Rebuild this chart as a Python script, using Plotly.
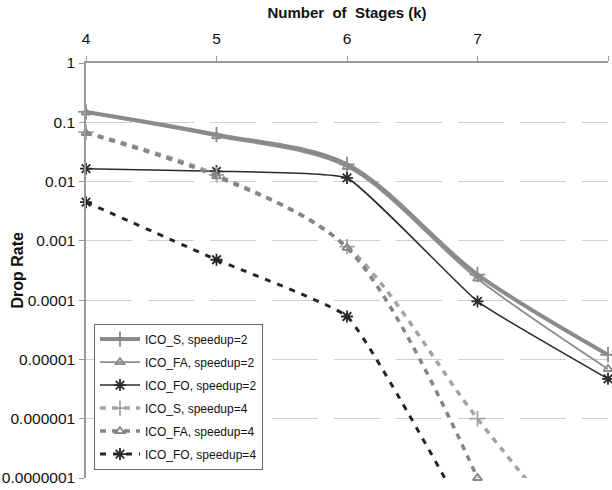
import plotly.graph_objects as go

# Number of pipeline stages (k)
stages = [4, 5, 6, 7, 8]

# Drop rate per configuration
ico_s_2 = [0.15, 0.062, 0.0195, 0.00027, 0.000012]
ico_fa_2 = [0.145, 0.058, 0.0176, 0.00023, 0.0000069]
ico_fo_2 = [0.0165, 0.0149, 0.0115, 0.000095, 0.0000047]
ico_s_4 = [0.068, 0.013, 0.0008, 0.000001, 0.000000002]
ico_fa_4 = [0.066, 0.0122, 0.00076, 0.0000001, None]
ico_fo_4 = [0.0045, 0.00048, 0.000053, 0.00000001, None]

series_names = [
    "ICO_S, speedup=2", "ICO_FA, speedup=2", "ICO_FO, speedup=2",
    "ICO_S, speedup=4", "ICO_FA, speedup=4", "ICO_FO, speedup=4",
]

y_tick_vals = [1, 0.1, 0.01, 0.001, 0.0001, 0.00001, 0.000001, 0.0000001]
y_tick_text = ["1", "0.1", "0.01", "0.001", "0.0001", "0.00001", "0.000001", "0.0000001"]
x_tick_vals = [4, 5, 6, 7, 8]

FONT = "Arial"

styles = [
    dict(color="#8a8a8a", width=4, dash="solid", symbol="cross-thin-open", size=11, smooth=0.9),
    dict(color="#8c8c8c", width=1.8, dash="solid", symbol="triangle-up-open", size=8, smooth=0.9),
    dict(color="#2b2b2b", width=1.5, dash="solid", symbol="asterisk-open", size=10, smooth=0.35),
    dict(color="#a4a4a4", width=3.5, dash="6px,6px", symbol="cross-thin-open", size=11, smooth=0.9),
    dict(color="#858585", width=3.5, dash="6px,6px", symbol="triangle-up-open", size=8, smooth=0.9),
    dict(color="#262626", width=3, dash="6px,7px", symbol="asterisk-open", size=10, smooth=0.35),
]

fig = go.Figure()
for name, values, st in zip(series_names,
                            [ico_s_2, ico_fa_2, ico_fo_2, ico_s_4, ico_fa_4, ico_fo_4],
                            styles):
    fig.add_trace(go.Scatter(
        x=stages, y=values, name=name, mode="lines+markers",
        legendgroup=name,
        line=dict(color=st["color"], width=st["width"], dash=st["dash"],
                  shape="spline", smoothing=st["smooth"]),
        marker=dict(symbol=st["symbol"], size=st["size"], color=st["color"],
                    line=dict(color=st["color"], width=1.8)),
        cliponaxis=False,
    ))

fig.update_layout(
    width=612, height=490,
    margin=dict(l=86, r=4, t=63, b=12),
    paper_bgcolor="white", plot_bgcolor="white",
    font=dict(family=FONT, color="#111111"),
    showlegend=True,
    legend=dict(
        x=0.0153, y=0.372, xanchor="left", yanchor="top",
        bgcolor="white", bordercolor="#666666", borderwidth=1,
        font=dict(family=FONT, size=12, color="#111111"),
        tracegroupgap=4, itemwidth=40,
    ),
    xaxis=dict(
        side="top", range=[4, 8], tickvals=x_tick_vals,
        showline=True, linecolor="#9a9a9a", linewidth=1.5,
        ticks="outside", ticklen=5, tickcolor="#9a9a9a",
        showgrid=False, zeroline=False, automargin=False,
        tickfont=dict(family=FONT, size=15.5, color="#111111"),
        ticklabelstandoff=6,
        title=dict(text="<b>Number  of  Stages (k)</b>", standoff=8,
                   font=dict(family=FONT, size=15, color="#111111")),
    ),
    yaxis=dict(
        type="log", range=[-7, 0], tickvals=y_tick_vals, ticktext=y_tick_text,
        showline=True, linecolor="#9a9a9a", linewidth=1.5,
        ticks="outside", ticklen=5, tickcolor="#9a9a9a",
        showgrid=True, gridcolor="#cfcfcf", gridwidth=1, griddash="46px,16px",
        zeroline=False, automargin=False,
        tickfont=dict(family=FONT, size=15.5, color="#111111"),
        ticklabelstandoff=1,
    ),
    annotations=[dict(
        text="<b>Drop Rate</b>", textangle=-90,
        xref="paper", yref="paper", x=-0.132, y=0.5,
        xanchor="center", yanchor="middle", showarrow=False,
        font=dict(family=FONT, size=16, color="#111111"),
    )],
)

fig.write_html("out.html")
